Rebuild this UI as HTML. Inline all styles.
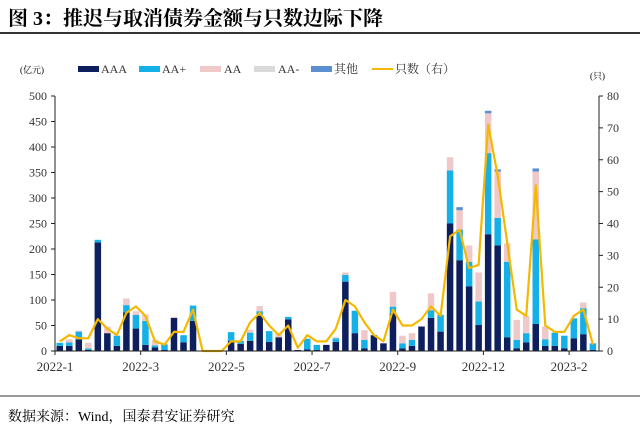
<!DOCTYPE html>
<html><head><meta charset="utf-8"><style>
body{margin:0;background:#fff;width:640px;height:437px;overflow:hidden;font-family:"Liberation Serif","Noto Serif CJK SC",serif;}
svg text{font-family:"Liberation Serif","Noto Serif CJK SC",serif;}
</style></head><body>
<svg width="640" height="437" viewBox="0 0 640 437" xmlns="http://www.w3.org/2000/svg">
<text x="8" y="25" font-size="20" font-weight="bold" fill="#000">图 3：推迟与取消债券金额与只数边际下降</text>
<line x1="0" y1="33" x2="640" y2="33" stroke="#333" stroke-width="2"/>
<text x="20" y="73" font-size="9">(亿元)</text>
<text x="590" y="79" font-size="9">(只)</text>
<g id="legend" font-size="12" fill="#333">
<rect x="78" y="66" width="21" height="6" fill="#0d1f5c"/><text x="101" y="73">AAA</text>
<rect x="139" y="66" width="21" height="6" fill="#16b0e8"/><text x="162" y="73">AA+</text>
<rect x="200" y="66" width="21" height="6" fill="#efc9c9"/><text x="224" y="73">AA</text>
<rect x="254" y="66" width="21" height="6" fill="#d9d9d9"/><text x="278" y="73">AA-</text>
<rect x="311" y="66" width="21" height="6" fill="#5b8fd0"/><text x="334" y="73">其他</text>
<line x1="372" y1="69" x2="393" y2="69" stroke="#f5b800" stroke-width="2"/><text x="395" y="73">只数（右）</text>
</g>
<g id="plot"></g>
<line x1="0" y1="396" x2="640" y2="396" stroke="#333" stroke-width="1"/>
<text x="8" y="421" font-size="14">数据来源：Wind，国泰君安证券研究</text>
</svg>
<script>
const aaa=[10,10,23,2,213,35,10,76,44,12,7,2,65,17,59,0,0,0,20,14,20,69,18,27,62,2,3,2,12,18,136,35,5,31,15,74,5,10,48,65,38,250,178,127,51,229,207,27,5,17,53,10,10,5,25,33,2];
const aaPlus=[6,7,15,3,5,0,20,14,27,47,4,11,0,14,30,0,0,0,17,6,16,9,21,0,5,0,21,10,0,7,13,44,17,0,0,13,10,12,0,15,33,104,60,48,46,159,54,148,17,18,166,13,26,25,39,51,13];
const aa=[0,6,2,11,0,13,0,13,7,13,11,0,2,0,0,0,0,0,0,0,6,10,0,9,0,0,0,0,0,2,5,0,19,0,0,29,15,13,0,33,0,26,38,32,57,78,91,36,39,34,133,25,0,0,0,11,0];
const aaMinus=new Array(57).fill(0);
const other=[0,0,0,0,0,0,0,0,0,0,0,0,0,0,0,0,0,0,0,0,0,0,0,0,0,0,0,0,0,0,0,0,0,0,0,0,0,0,0,0,0,0,6,0,0,5,4,0,0,0,6,0,0,0,0,0,0];
const counts=[3,5,4,4,10,7,5,12,14,11,3,2,6,6,13,0,0,0,3,3,9,12,8,5,8,1,5,3,3,7,16,14,9,5,3,13,8,8,10,14,11,36,38,26,27,71,55,34,13,11,52,8,6,6,11,13,2];
const leftTicks=[0,50,100,150,200,250,300,350,400,450,500];
const rightTicks=[0,10,20,30,40,50,60,70,80];
const monthLabels=["2022-1","2022-3","2022-5","2022-7","2022-9","2022-12","2023-2"];
const NS="http://www.w3.org/2000/svg";
const g=document.getElementById('plot');
const X0=55,X1=599,Y0=351,Y1=96,step=9.52,bw=6.5;
const yL=v=>Y0-(v/500)*(Y0-Y1);
const yR=v=>Y0-(v/80)*(Y0-Y1);
const xC=i=>X0+step*(i+0.5);
function mk(t,a){const e=document.createElementNS(NS,t);for(const k in a)e.setAttribute(k,a[k]);g.appendChild(e);return e;}
const series=[[aaa,'#0d1f5c','aaa'],[aaPlus,'#16b0e8','aa-plus'],[aa,'#efc9c9','aa'],[aaMinus,'#d9d9d9','aa-minus'],[other,'#5b8fd0','other']];
for(let i=0;i<aaa.length;i++){let base=0;for(const [arr,col,nm] of series){const v=arr[i];if(v>0){const r=mk('rect',{x:xC(i)-bw/2,y:yL(base+v),width:bw,height:yL(base)-yL(base+v),fill:col});

}base+=v;}}
const pts=counts.map((c,i)=>xC(i).toFixed(1)+','+yR(c).toFixed(1)).join(' ');
const pl=mk('polyline',{points:pts,fill:'none',stroke:'#f5b800','stroke-width':2.2,'stroke-linejoin':'round'});


const ax=mk('path',{d:`M${X0} ${Y1}V${Y0}H${X1}V${Y1}`,fill:'none',stroke:'#222','stroke-width':1});


leftTicks.forEach(v=>{mk('line',{x1:X0-4,x2:X0,y1:yL(v),y2:yL(v),stroke:'#222'});const t=mk('text',{x:X0-8,y:yL(v)+4,'font-size':12,'text-anchor':'end',fill:'#333'});t.textContent=v;

});
rightTicks.forEach(v=>{mk('line',{x1:X1,x2:X1+4,y1:yR(v),y2:yR(v),stroke:'#222'});const t=mk('text',{x:X1+8,y:yR(v)+4,'font-size':12,fill:'#333'});t.textContent=v;

});
monthLabels.forEach((m,k)=>{const x=X0+k*9*step;mk('line',{x1:x,x2:x,y1:Y0,y2:Y0+4,stroke:'#222'});const t=mk('text',{x:x,y:Y0+20,'font-size':13,'text-anchor':'middle',fill:'#333'});t.textContent=m;

});
</script>
</body></html>
